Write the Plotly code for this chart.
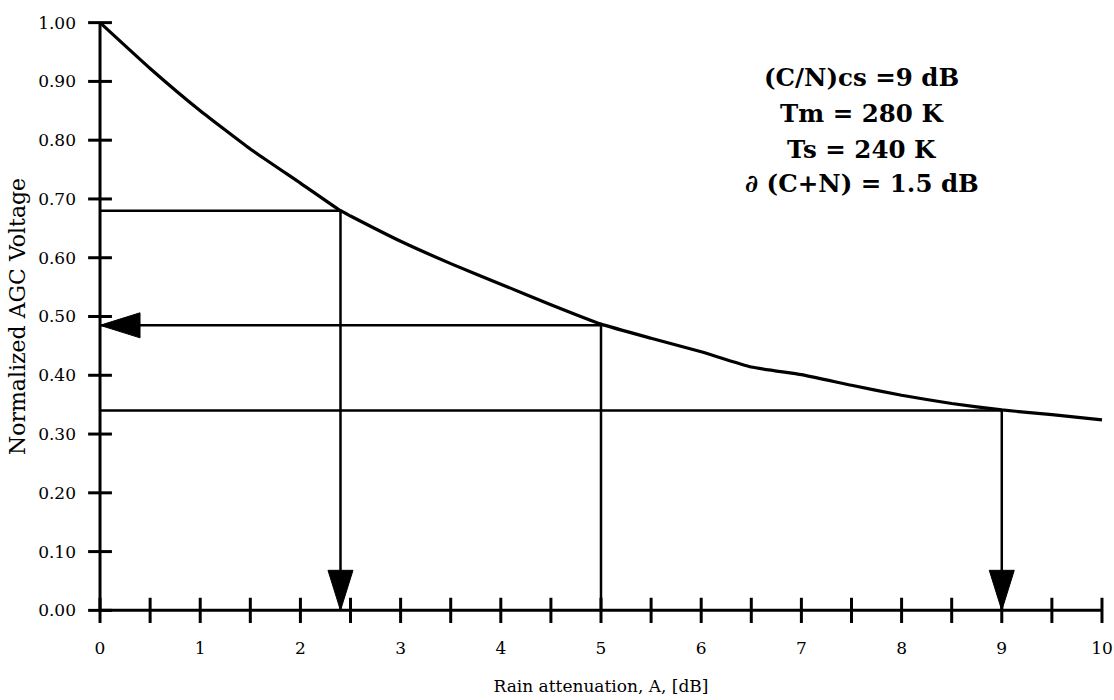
import plotly.graph_objects as go

# ---- data ----
atten_db = [0, 0.5, 1, 1.5, 2, 2.4, 2.5, 3, 3.5, 4, 4.5, 5, 5.5, 6, 6.5, 7, 7.5, 8, 8.5, 9, 9.5, 10]
agc_volt = [1.00, 0.922, 0.85, 0.785, 0.727, 0.68, 0.671, 0.628, 0.59, 0.555, 0.52, 0.487,
            0.463, 0.44, 0.414, 0.401, 0.383, 0.366, 0.352, 0.341, 0.333, 0.324]

# guide lines (attenuation, voltage, where the arrow points)
guide_x = [2.4, 5.0, 9.0]
guide_y = [0.68, 0.485, 0.34]
guide_arrow = ["down", "left", "down"]

x_minor_ticks = [i * 0.5 for i in range(21)]
x_label_vals = list(range(11))
x_label_text = [str(v) for v in x_label_vals]
y_tick_vals = [i / 10 for i in range(11)]
y_tick_text = ["%.2f" % v for v in y_tick_vals]

notes = ["(C/N)cs =9 dB", "Tm = 280 K", "Ts = 240 K", "\u2202 (C+N) = 1.5 dB"]
notes_x = 7.6
notes_y = [0.906, 0.845, 0.785, 0.726]

# ---- styling ----
W, H = 1114, 700
X_RANGE = [-0.1, 10.1]
Y_RANGE = [-0.03, 1.03]
M_L, M_R, M_T, M_B = 90, 2, 5.4, 72.4
px_x = (W - M_L - M_R) / (X_RANGE[1] - X_RANGE[0])
px_y = (H - M_T - M_B) / (Y_RANGE[1] - Y_RANGE[0])
HEAD_LEN, HEAD_HALF = 40, 12.5  # pixels
FONT = "DejaVu Serif"

fig = go.Figure()

# axes lines
fig.add_trace(go.Scatter(x=[x_minor_ticks[0], x_minor_ticks[-1]], y=[0, 0], mode="lines",
                         line=dict(color="black", width=3), hoverinfo="skip"))
fig.add_trace(go.Scatter(x=[0, 0], y=[y_tick_vals[0], y_tick_vals[-1]], mode="lines",
                         line=dict(color="black", width=3), hoverinfo="skip"))
# tick marks crossing the axes
fig.add_trace(go.Scatter(x=x_minor_ticks, y=[0] * len(x_minor_ticks), mode="markers",
                         marker=dict(symbol="line-ns", size=18, line=dict(color="black", width=3)),
                         cliponaxis=False, hoverinfo="skip"))
fig.add_trace(go.Scatter(x=[0] * len(y_tick_vals), y=y_tick_vals, mode="markers",
                         marker=dict(symbol="line-ew", size=17, line=dict(color="black", width=3)),
                         cliponaxis=False, hoverinfo="skip"))

# guide lines and arrowheads
for gx, gy, direction in zip(guide_x, guide_y, guide_arrow):
    fig.add_trace(go.Scatter(x=[0, gx, gx], y=[gy, gy, 0], mode="lines",
                             line=dict(color="black", width=2.5), hoverinfo="skip"))
    if direction == "down":
        dl = HEAD_LEN / px_y
        hw = HEAD_HALF / px_x
        tx = [gx, gx - hw, gx + hw, gx]
        ty = [0, dl, dl, 0]
    else:
        dl = HEAD_LEN / px_x
        hw = HEAD_HALF / px_y
        tx = [0, dl, dl, 0]
        ty = [gy, gy + hw, gy - hw, gy]
    fig.add_trace(go.Scatter(x=tx, y=ty, mode="lines", fill="toself", fillcolor="black",
                             line=dict(color="black", width=1), hoverinfo="skip"))

# main curve
fig.add_trace(go.Scatter(x=atten_db, y=agc_volt, mode="lines",
                         line=dict(color="black", width=3.2, shape="spline", smoothing=0.4),
                         hoverinfo="skip"))

for txt, ny in zip(notes, notes_y):
    fig.add_annotation(x=notes_x, y=ny, text="<b>%s</b>" % txt, showarrow=False,
                       xanchor="center", yanchor="middle",
                       font=dict(family=FONT, size=24.5, color="black"))

fig.update_layout(
    width=W, height=H, showlegend=False,
    paper_bgcolor="white", plot_bgcolor="white",
    margin=dict(l=M_L, r=M_R, t=M_T, b=M_B, autoexpand=False),
    font=dict(family=FONT, color="black"),
    xaxis=dict(range=X_RANGE, showgrid=False, zeroline=False, showline=False, ticks="",
               tickvals=x_label_vals, ticktext=x_label_text, ticklabelstandoff=8,
               ticklabeloverflow="allow",
               tickfont=dict(family=FONT, size=17, color="black"),
               title=dict(text="Rain attenuation, A, [dB]", standoff=23,
                          font=dict(family=FONT, size=17, color="black")),
               automargin=False),
    yaxis=dict(range=Y_RANGE, showgrid=False, zeroline=False, showline=False, ticks="",
               tickvals=y_tick_vals, ticktext=y_tick_text, ticklabelstandoff=13,
               ticklabeloverflow="allow",
               tickfont=dict(family=FONT, size=17, color="black"),
               title=dict(text="Normalized AGC Voltage", standoff=6,
                          font=dict(family=FONT, size=22, color="black")),
               automargin=False),
)

# remove the default page margin so the 1114x700 figure fills the window exactly
fig.write_html("out.html", config={"displayModeBar": False},
               post_script="document.body.style.margin='0';document.body.style.overflow='hidden';")
